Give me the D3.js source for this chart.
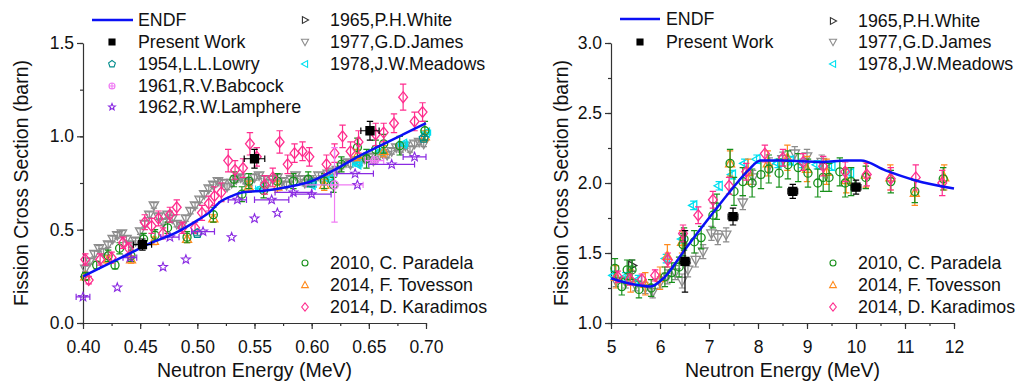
<!DOCTYPE html>
<html><head><meta charset="utf-8">
<script src="https://cdn.jsdelivr.net/npm/d3@7"></script>
<style>body{margin:0;background:#fff;} svg{display:block;}</style>
</head><body><svg id="c" width="1016" height="383"></svg>
<script>
// ---------- DATA (left panel: 0.40-0.70 MeV) ----------
const L_xTicks = [0.40,0.45,0.50,0.55,0.60,0.65,0.70];
const L_yTicks = [0.0,0.5,1.0,1.5];
const L_endf = [[0.40,0.25],[0.42,0.31],[0.44,0.37],[0.46,0.43],[0.48,0.48],[0.50,0.55],[0.51,0.59],[0.52,0.65],[0.53,0.68],[0.54,0.70],[0.56,0.71],[0.58,0.73],[0.60,0.76],[0.62,0.82],[0.64,0.89],[0.66,0.95],[0.68,1.01],[0.70,1.07]];
// [E, sigma, yerr, xerr]
const L_present = [[0.452,0.42,0.03,0.008],[0.550,0.88,0.05,0.009],[0.651,1.03,0.05,0.008]];
const L_lowry = [[0.500,0.48,0.01,0],[0.600,0.75,0.01,0],[0.698,0.99,0.01,0]];
const L_babcock = [[0.620,0.74,0.20,0.025],[0.655,0.87,0.01,0.008]];
const L_lamphere = [[0.400,0.14,0,0.006],[0.430,0.19,0,0],[0.441,0.35,0,0.006],[0.470,0.30,0,0],[0.476,0.46,0,0.008],[0.490,0.34,0,0],[0.505,0.49,0,0.01],[0.530,0.46,0,0],[0.535,0.66,0,0.008],[0.550,0.56,0,0],[0.570,0.59,0,0],[0.565,0.66,0,0.015],[0.584,0.70,0,0.016],[0.600,0.69,0,0.017],[0.638,0.80,0,0.016],[0.640,0.74,0,0],[0.670,0.85,0,0.02],[0.690,0.89,0,0.01]];
const L_james = [[0.402,0.29],[0.406,0.33],[0.410,0.37],[0.414,0.40],[0.418,0.38],[0.422,0.42],[0.426,0.45],[0.430,0.47],[0.434,0.48],[0.438,0.45],[0.442,0.42],[0.446,0.44],[0.450,0.49],[0.454,0.53],[0.458,0.58],[0.462,0.63],[0.466,0.57],[0.470,0.54],[0.474,0.58],[0.478,0.56],[0.482,0.53],[0.486,0.52],[0.490,0.56],[0.494,0.60],[0.498,0.63],[0.502,0.66],[0.506,0.69],[0.510,0.72],[0.514,0.74],[0.518,0.76],[0.522,0.75],[0.526,0.73],[0.530,0.75],[0.534,0.77],[0.538,0.78],[0.542,0.76],[0.546,0.75],[0.550,0.78],[0.554,0.79],[0.558,0.77],[0.562,0.75],[0.566,0.77],[0.570,0.78],[0.574,0.76],[0.578,0.74],[0.582,0.77],[0.586,0.79],[0.590,0.77],[0.594,0.75],[0.598,0.77],[0.602,0.76],[0.606,0.79],[0.610,0.77],[0.614,0.80],[0.618,0.81],[0.622,0.82],[0.626,0.84],[0.630,0.86],[0.634,0.85],[0.638,0.87],[0.642,0.86],[0.646,0.88],[0.650,0.89],[0.654,0.87],[0.658,0.89],[0.662,0.91],[0.666,0.90],[0.670,0.92],[0.674,0.94],[0.678,0.93],[0.682,0.95],[0.686,0.93],[0.690,0.96],[0.694,0.97],[0.698,0.96]];
const L_meadows = [[0.555,0.72,0.01,0.004],[0.600,0.74,0.01,0.004],[0.615,0.77,0.01,0.004],[0.640,0.85,0.01,0.004],[0.660,0.92,0.01,0.004],[0.680,0.96,0.01,0.004],[0.700,1.02,0.01,0.004]];
const L_paradela = [[0.402,0.25,0.02],[0.412,0.31,0.02],[0.422,0.36,0.03],[0.428,0.31,0.02],[0.432,0.40,0.03],[0.442,0.36,0.03],[0.453,0.45,0.03],[0.463,0.47,0.03],[0.474,0.51,0.03],[0.491,0.46,0.03],[0.514,0.58,0.04],[0.532,0.77,0.04],[0.539,0.69,0.04],[0.545,0.76,0.04],[0.558,0.71,0.04],[0.570,0.76,0.04],[0.584,0.76,0.04],[0.597,0.77,0.04],[0.611,0.76,0.04],[0.619,0.74,0.04],[0.626,0.85,0.04],[0.640,0.94,0.05],[0.648,0.88,0.05],[0.656,0.93,0.05],[0.663,0.96,0.05],[0.677,0.95,0.05],[0.699,1.03,0.05]];
const L_tovesson = [[0.402,0.25,0.02],[0.422,0.34,0.02],[0.442,0.34,0.02],[0.462,0.44,0.02],[0.491,0.45,0.02],[0.514,0.56,0.02],[0.545,0.73,0.03],[0.570,0.73,0.03],[0.611,0.74,0.03],[0.640,0.90,0.03],[0.663,0.92,0.03],[0.699,1.00,0.03]];
const L_karadimos = [[0.402,0.34,0.03],[0.405,0.23,0.02],[0.415,0.34,0.03],[0.425,0.35,0.03],[0.435,0.43,0.03],[0.440,0.40,0.03],[0.454,0.54,0.04],[0.460,0.52,0.04],[0.466,0.56,0.04],[0.470,0.48,0.03],[0.476,0.58,0.04],[0.482,0.62,0.04],[0.487,0.51,0.03],[0.498,0.51,0.03],[0.504,0.59,0.04],[0.510,0.64,0.04],[0.515,0.68,0.05],[0.521,0.70,0.05],[0.527,0.87,0.06],[0.533,0.82,0.05],[0.540,0.83,0.05],[0.546,0.96,0.06],[0.552,0.89,0.05],[0.559,0.74,0.05],[0.566,0.78,0.05],[0.572,0.97,0.06],[0.579,0.85,0.05],[0.585,0.91,0.05],[0.592,0.92,0.05],[0.598,0.89,0.05],[0.613,0.85,0.05],[0.620,0.91,0.05],[0.627,1.00,0.06],[0.634,0.92,0.05],[0.641,0.97,0.06],[0.656,1.01,0.06],[0.663,1.02,0.05],[0.672,1.07,0.05],[0.680,1.21,0.07],[0.690,1.08,0.05],[0.697,1.13,0.05]];

// ---------- DATA (right panel: 5-12 MeV) ----------
const R_xTicks = [5,6,7,8,9,10,11,12];
const R_yTicks = [1.0,1.5,2.0,2.5,3.0];
const R_endf = [[5.0,1.32],[5.4,1.28],[5.8,1.26],[6.1,1.33],[6.5,1.52],[7.0,1.75],[7.5,1.97],[7.8,2.09],[8.05,2.16],[8.5,2.16],[9.3,2.15],[9.8,2.16],[10.1,2.16],[10.6,2.09],[11.2,2.02],[12.0,1.96]];
const R_present = [[6.51,1.44,0.22,0.1],[7.49,1.76,0.06,0.1],[8.71,1.94,0.05,0.1],[10.0,1.97,0.05,0.1]];
const R_white = [[5.43,1.41,0.04,0]];
const R_james = [[5.10,1.30,0.04],[5.30,1.29,0.04],[5.50,1.27,0.04],[5.70,1.25,0.04],[5.85,1.22,0.04],[6.00,1.29,0.04],[6.15,1.33,0.05],[6.31,1.36,0.05],[6.45,1.30,0.05],[6.57,1.38,0.05],[6.73,1.45,0.05],[6.88,1.51,0.05],[7.05,1.64,0.05],[7.18,1.61,0.05],[7.35,1.63,0.05],[7.69,1.86,0.05],[7.90,2.04,0.05],[8.24,2.13,0.05],[8.50,2.17,0.05],[8.75,2.21,0.05],[9.00,2.19,0.05],[9.30,2.15,0.05]];
const R_meadows = [[5.05,1.34,0.03],[5.29,1.33,0.03],[5.55,1.31,0.03],[6.12,1.46,0.03],[6.45,1.60,0.03],[6.68,1.84,0.03],[7.20,1.98,0.03],[7.47,2.06,0.03],[7.72,2.14,0.03],[7.97,2.17,0.03],[8.40,2.14,0.03],[8.65,2.16,0.03],[8.90,2.14,0.03],[9.20,2.13,0.03],[9.50,2.12,0.03],[9.88,2.07,0.03]];
const R_tovesson = [[5.10,1.33,0.08],[5.40,1.30,0.08],[5.70,1.28,0.08],[6.00,1.32,0.08],[6.15,1.48,0.08],[6.45,1.58,0.08],[7.43,2.14,0.09],[7.80,2.08,0.09],[8.20,2.14,0.09],[8.60,2.18,0.09],[9.00,2.10,0.09],[9.40,2.08,0.09],[9.80,2.02,0.09],[10.20,2.06,0.09],[10.70,2.04,0.09],[11.20,1.93,0.09],[11.80,2.04,0.09]];
const R_paradela = [[5.08,1.39,0.07],[5.22,1.26,0.06],[5.33,1.38,0.07],[5.43,1.38,0.07],[5.57,1.24,0.06],[5.82,1.25,0.06],[6.10,1.33,0.07],[6.24,1.36,0.07],[6.39,1.40,0.07],[6.47,1.56,0.08],[6.49,1.60,0.08],[6.70,1.58,0.08],[6.84,1.61,0.08],[7.08,1.77,0.09],[7.16,1.83,0.09],[7.43,2.14,0.10],[7.51,1.94,0.10],[7.69,2.01,0.10],[7.88,2.00,0.10],[8.06,2.06,0.10],[8.22,2.10,0.10],[8.43,2.07,0.10],[8.61,2.13,0.10],[8.82,2.11,0.10],[9.02,2.07,0.10],[9.22,2.00,0.10],[9.33,2.04,0.10],[9.45,2.04,0.10],[9.67,2.08,0.10],[9.78,2.00,0.10],[9.90,2.01,0.10],[10.20,2.04,0.08],[10.71,2.01,0.08],[11.20,1.94,0.08],[11.78,2.03,0.08]];
const R_karadimos = [[5.14,1.33,0.04],[5.39,1.31,0.04],[5.63,1.31,0.04],[5.90,1.34,0.04],[6.16,1.45,0.05],[6.47,1.64,0.06],[6.78,1.77,0.06],[7.08,1.88,0.06],[7.41,1.98,0.06],[7.76,2.08,0.06],[8.14,2.21,0.06],[8.51,2.18,0.06],[8.92,2.15,0.06],[9.33,2.12,0.07],[9.78,2.08,0.07],[10.22,2.06,0.08],[10.71,2.03,0.08],[11.22,2.04,0.09],[11.76,2.00,0.09]];

// ---------- DRAWING ----------
const FONT = "'Liberation Sans', Arial, sans-serif";
const svg = d3.select('#c');

function shapePath(type, s){
  switch(type){
    case 'square': return `M${-s},${-s}H${s}V${s}H${-s}Z`;
    case 'circle': return `M${s},0A${s},${s} 0 1,1 ${-s},0A${s},${s} 0 1,1 ${s},0Z`;
    case 'diamond': return `M0,${-s*1.3}L${s*1.05},0L0,${s*1.3}L${-s*1.05},0Z`;
    case 'tri_up': return `M0,${-s*1.1}L${s*1.05},${s*0.8}L${-s*1.05},${s*0.8}Z`;
    case 'tri_down': return `M0,${s*1.1}L${s*1.05},${-s*0.8}L${-s*1.05},${-s*0.8}Z`;
    case 'tri_left': return `M${-s*1.1},0L${s*0.8},${-s*1.05}L${s*0.8},${s*1.05}Z`;
    case 'tri_right': return `M${s*1.1},0L${-s*0.8},${-s*1.05}L${-s*0.8},${s*1.05}Z`;
    case 'pentagon': {
      let p=''; for(let k=0;k<5;k++){const a=-Math.PI/2+k*2*Math.PI/5; p+=(k?'L':'M')+(s*1.1*Math.cos(a)).toFixed(2)+','+(s*1.1*Math.sin(a)).toFixed(2);} return p+'Z';}
    case 'star': {
      let p=''; for(let k=0;k<10;k++){const a=-Math.PI/2+k*Math.PI/5; const r=k%2?s*0.55:s*1.3; p+=(k?'L':'M')+(r*Math.cos(a)).toFixed(2)+','+(r*Math.sin(a)).toFixed(2);} return p+'Z';}
    case 'crosscircle': return shapePath('circle',s)+`M${-s},0H${s}M0,${-s}V${s}`;
  }
}

function drawSeries(g, x, y, data, cfg){
  const cap = 3.2;
  const sg = g.append('g');
  data.forEach(d=>{
    const cx=x(d[0]), cy=y(d[1]);
    const ye=d[2]||0, xe=d[3]||0;
    const ec = cfg.errColor||cfg.color;
    if(ye>0){
      const y1=y(d[1]+ye), y2=y(d[1]-ye);
      sg.append('path').attr('d',`M${cx},${y1}V${y2}M${cx-cap},${y1}H${cx+cap}M${cx-cap},${y2}H${cx+cap}`)
        .attr('stroke',ec).attr('stroke-width',1.2).attr('fill','none');
    }
    if(xe>0){
      const x1=x(d[0]-xe), x2=x(d[0]+xe);
      sg.append('path').attr('d',`M${x1},${cy}H${x2}M${x1},${cy-cap}V${cy+cap}M${x2},${cy-cap}V${cy+cap}`)
        .attr('stroke',ec).attr('stroke-width',1.2).attr('fill','none');
    }
  });
  data.forEach(d=>{
    sg.append('path').attr('d',shapePath(cfg.shape,cfg.size))
      .attr('transform',`translate(${x(d[0])},${y(d[1])})`)
      .attr('fill',cfg.fill?cfg.color:'#fff').attr('fill-opacity',cfg.fill?1:0)
      .attr('stroke',cfg.color).attr('stroke-width',cfg.sw||1.3);
  });
}

const C = {
  endf:'#0a10f5', present:'#000', lowry:'#008b8b', babcock:'#f07cf4', lamphere:'#8a2be2',
  white:'#333', james:'#8c8c8c', meadows:'#00e0f0', paradela:'#17901a', tovesson:'#ff8a1c', karadimos:'#ff2d8e'
};

function panel(opts){
  const {x0,x1,y0,y1,xd,yd,xTicks,yTicks,xMinor,yMinor,xfmt,yfmt,titleX} = opts;
  const x = d3.scaleLinear().domain(xd).range([x0,x1]);
  const y = d3.scaleLinear().domain(yd).range([y0,y1]);
  const g = svg.append('g');
  g.append('g').attr('transform',`translate(0,${y0})`)
    .call(d3.axisBottom(x).tickValues(xMinor).tickSize(3).tickSizeOuter(0).tickFormat(''))
    .call(a=>a.select('.domain').remove());
  g.append('g').attr('transform',`translate(${x0},0)`)
    .call(d3.axisLeft(y).tickValues(yMinor).tickSize(3).tickSizeOuter(0).tickFormat(''))
    .call(a=>a.select('.domain').remove());
  const ax = g.append('g').attr('transform',`translate(0,${y0})`)
    .call(d3.axisBottom(x).tickValues(xTicks).tickSize(6).tickSizeOuter(0).tickPadding(12).tickFormat(xfmt));
  const ay = g.append('g').attr('transform',`translate(${x0},0)`)
    .call(d3.axisLeft(y).tickValues(yTicks).tickSize(6).tickSizeOuter(0).tickPadding(3).tickFormat(yfmt));
  [ax,ay].forEach(a=>{
    a.selectAll('text').attr('font-family',FONT).attr('font-size',17.5).attr('fill','#111');
    a.selectAll('line,path').attr('stroke','#333').attr('stroke-width',1.2);
  });
  g.selectAll('.tick line').attr('stroke','#333').attr('stroke-width',1.2);
  g.append('text').attr('x',(x0+x1)/2).attr('y',377).attr('text-anchor','middle')
    .attr('font-family',FONT).attr('font-size',19.5).attr('fill','#111').text('Neutron Energy (MeV)');
  g.append('text').attr('transform',`translate(${titleX},${(y0+y1)/2}) rotate(-90)`).attr('text-anchor','middle')
    .attr('font-family',FONT).attr('font-size',19.5).attr('fill','#111').text('Fission Cross Section (barn)');
  return {g,x,y};
}

function legendItem(g, mx, tx, ty, label, cfg){
  if(cfg.line){
    g.append('line').attr('x1',mx[0]).attr('x2',mx[1]).attr('y1',ty).attr('y2',ty)
      .attr('stroke',cfg.color).attr('stroke-width',2.5);
  } else {
    g.append('path').attr('d',shapePath(cfg.shape,cfg.size*0.75)).attr('transform',`translate(${mx},${ty})`)
      .attr('fill',cfg.fill?cfg.color:'none').attr('stroke',cfg.color).attr('stroke-width',1.1);
  }
  g.append('text').attr('x',tx).attr('y',ty).attr('dy','0.36em').attr('font-family',FONT)
    .attr('font-size',17.8).attr('fill','#111').text(label);
}

const S = {
  present:{shape:'square',color:C.present,fill:true,size:4},
  lowry:{shape:'pentagon',color:C.lowry,size:4.3},
  babcock:{shape:'crosscircle',color:C.babcock,size:4},
  lamphere:{shape:'star',color:C.lamphere,size:3.6,sw:1.1},
  white:{shape:'tri_right',color:C.white,size:4.3},
  james:{shape:'tri_down',color:C.james,size:4.5},
  meadows:{shape:'tri_left',color:C.meadows,size:4.3},
  paradela:{shape:'circle',color:C.paradela,size:4},
  tovesson:{shape:'tri_up',color:C.tovesson,size:4.3},
  karadimos:{shape:'diamond',color:C.karadimos,size:4.2}
};

// ---- Left panel
const fx = d=>d.toFixed(2), fy = d=>d.toFixed(1);
const P1 = panel({x0:83,x1:426,y0:323,y1:43,xd:[0.40,0.70],yd:[0,1.5],
  xTicks:L_xTicks,yTicks:L_yTicks,
  xMinor:d3.range(0,13).map(i=>0.40+i*0.025),yMinor:d3.range(0,7).map(i=>i*0.25),
  xfmt:fx,yfmt:fy,titleX:28});
{
  const {g,x,y}=P1;
  drawSeries(g,x,y,L_james.map(d=>[d[0],d[1],0.015,0]),S.james);
  drawSeries(g,x,y,L_meadows,S.meadows);
  drawSeries(g,x,y,L_tovesson,S.tovesson);
  drawSeries(g,x,y,L_paradela,S.paradela);
  drawSeries(g,x,y,L_karadimos,S.karadimos);
  drawSeries(g,x,y,L_lowry,S.lowry);
  drawSeries(g,x,y,L_babcock,S.babcock);
  drawSeries(g,x,y,L_lamphere,S.lamphere);
  g.append('path').datum(L_endf).attr('d',d3.line().x(d=>x(d[0])).y(d=>y(d[1])).curve(d3.curveMonotoneX))
    .attr('fill','none').attr('stroke',C.endf).attr('stroke-width',2.5);
  drawSeries(g,x,y,L_present,S.present);
  const lg = svg.append('g');
  legendItem(lg,[92,133],138,20,'ENDF',{line:true,color:C.endf});
  legendItem(lg,112,138,42,'Present Work',S.present);
  legendItem(lg,112,138,64,'1954,L.L.Lowry',S.lowry);
  legendItem(lg,112,138,86,'1961,R.V.Babcock',S.babcock);
  legendItem(lg,112,138,107,'1962,R.W.Lamphere',S.lamphere);
  legendItem(lg,305,330,20,'1965,P.H.White',S.white);
  legendItem(lg,305,330,42,'1977,G.D.James',S.james);
  legendItem(lg,305,330,64,'1978,J.W.Meadows',S.meadows);
  legendItem(lg,305,330,263,'2010, C. Paradela',S.paradela);
  legendItem(lg,305,330,285,'2014, F. Tovesson',S.tovesson);
  legendItem(lg,305,330,307,'2014, D. Karadimos',S.karadimos);
}

// ---- Right panel
const P2 = panel({x0:611,x1:954,y0:323,y1:43,xd:[5,12],yd:[1,3],
  xTicks:R_xTicks,yTicks:R_yTicks,
  xMinor:d3.range(0,15).map(i=>5+i*0.5),yMinor:d3.range(0,9).map(i=>1+i*0.25),
  xfmt:d=>String(d),yfmt:fy,titleX:568});
{
  const {g,x,y}=P2;
  drawSeries(g,x,y,R_james,S.james);
  drawSeries(g,x,y,R_white,S.white);
  drawSeries(g,x,y,R_meadows,S.meadows);
  drawSeries(g,x,y,R_tovesson,S.tovesson);
  drawSeries(g,x,y,R_paradela,S.paradela);
  drawSeries(g,x,y,R_karadimos,S.karadimos);
  g.append('path').datum(R_endf).attr('d',d3.line().x(d=>x(d[0])).y(d=>y(d[1])).curve(d3.curveMonotoneX))
    .attr('fill','none').attr('stroke',C.endf).attr('stroke-width',2.5);
  drawSeries(g,x,y,R_present,S.present);
  const lg = svg.append('g');
  legendItem(lg,[620,660],666,19,'ENDF',{line:true,color:C.endf});
  legendItem(lg,640,666,42,'Present Work',S.present);
  legendItem(lg,833,858,21,'1965,P.H.White',S.white);
  legendItem(lg,833,858,42,'1977,G.D.James',S.james);
  legendItem(lg,833,858,64,'1978,J.W.Meadows',S.meadows);
  legendItem(lg,833,858,263,'2010, C. Paradela',S.paradela);
  legendItem(lg,833,858,285,'2014, F. Tovesson',S.tovesson);
  legendItem(lg,833,858,307,'2014, D. Karadimos',S.karadimos);
}
</script></body></html>
